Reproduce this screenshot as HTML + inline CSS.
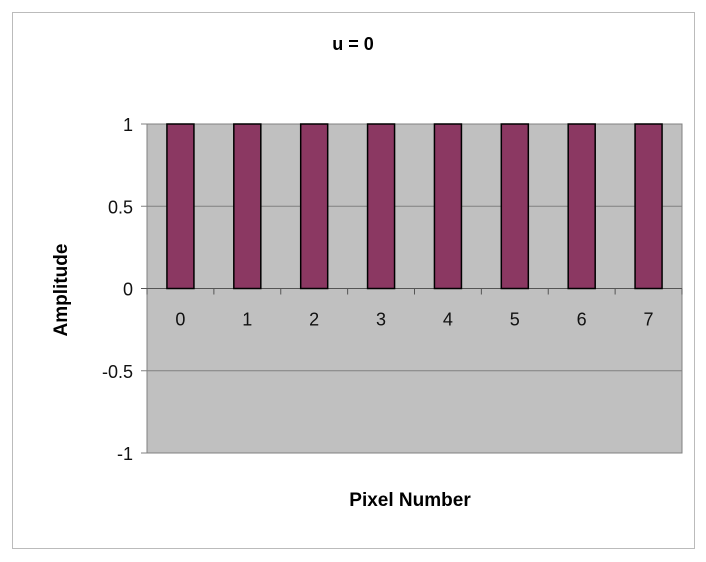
<!DOCTYPE html>
<html><head><style>
body{margin:0;background:#fff;}
svg{display:block;font-family:"Liberation Sans",Arial,sans-serif;}
</style></head><body>
<svg width="706" height="562">
<rect x="12.5" y="12.5" width="682" height="536" fill="#fff" stroke="#bbb"/>
<text x="353" y="50" text-anchor="middle" font-size="18" font-weight="bold">u = 0</text>
<g id="plot"></g>
<text x="410" y="506" text-anchor="middle" font-size="19" font-weight="bold">Pixel Number</text>
<text transform="translate(67,290) rotate(-90)" text-anchor="middle" font-size="19" font-weight="bold">Amplitude</text>
</svg>
<script>
const categories=["0","1","2","3","4","5","6","7"];
const values=[1,1,1,1,1,1,1,1];
const yTicks=[1,0.5,0,-0.5,-1];
const yTickLabels=["1","0.5","0","-0.5","-1"];
const L=147,R=682,T=124,B=453,yMin=-1,yMax=1;
const ns="http://www.w3.org/2000/svg";
const g=document.getElementById('plot');
function y(v){return T+(yMax-v)/(yMax-yMin)*(B-T);}
const band=(R-L)/categories.length;
function x(i){return L+band*i;}
function mk(t,a){const e=document.createElementNS(ns,t);for(const k in a)e.setAttribute(k,a[k]);g.appendChild(e);return e;}
const bg=mk('rect',{x:L,y:T,width:R-L,height:B-T,fill:'#c0c0c0',stroke:'#808080'});


yTicks.forEach((v,i)=>{
  const ln=mk('line',{x1:L-6,x2:R,y1:y(v),y2:y(v),stroke:v===0?'#555':'#808080'});
  
  
  const t=mk('text',{x:L-14,y:y(v)+7,'text-anchor':'end','font-size':'18',fill:'#111'});
  t.textContent=yTickLabels[i];
  
  
});
for(let i=0;i<=categories.length;i++){
  const tk=mk('line',{x1:x(i),x2:x(i),y1:y(0),y2:y(0)+6,stroke:'#555'});
  
  
}
const bw=27;
categories.forEach((c,i)=>{
  const cx=x(i)+band/2,v=values[i];
  const r=mk('rect',{x:cx-bw/2,y:Math.min(y(v),y(0)),width:bw,height:Math.abs(y(v)-y(0)),fill:'#8b3862',stroke:'#000','stroke-width':1.5});
  
  
  const t=mk('text',{x:cx,y:y(0)+37,'text-anchor':'middle','font-size':'18',fill:'#111'});
  t.textContent=c;
  
  
});
</script>
</body></html>
